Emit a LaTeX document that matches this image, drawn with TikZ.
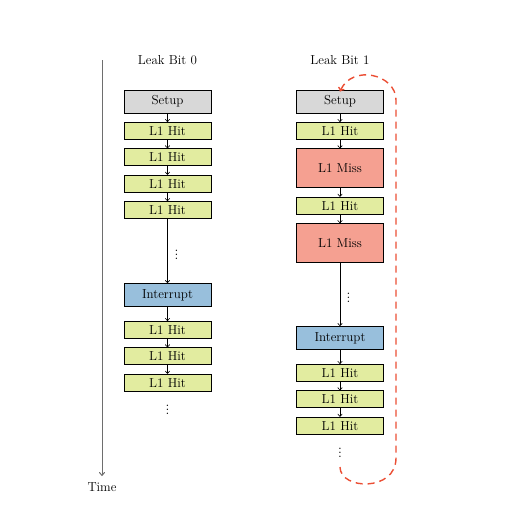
\documentclass[tikz,border=0pt]{standalone}
\usepackage{amsmath}
\usepackage{tikz}
\usetikzlibrary{positioning,arrows.meta}

\definecolor{setupgray}{RGB}{216,216,216}
\definecolor{hitgreen}{RGB}{226,236,160}
\definecolor{missred}{RGB}{245,160,145}
\definecolor{intblue}{RGB}{152,191,220}
\definecolor{loopred}{RGB}{235,78,52}
\definecolor{axisgray}{RGB}{110,110,110}

\begin{document}
\begin{tikzpicture}[x=1pt, y=-1pt, node distance={8.5pt},
    font=\fontsize{13}{15}\selectfont,
    stage/.style = {draw, line width=0.9pt, minimum width=87pt, inner sep=0pt},
    setup/.style = {stage, fill=setupgray, minimum height=23pt},
    hit/.style = {stage, fill=hitgreen, minimum height=17pt},
    miss/.style = {stage, fill=missred, minimum height=39pt},
    intr/.style = {stage, fill=intblue, minimum height=23pt},
    dots/.style = {inner sep=0pt, font=\fontsize{14}{16}\selectfont},
    flow/.style = {-{To[length=3pt,width=5pt]}, line width=0.6pt}]
    \useasboundingbox (0,0) rectangle (508,512);

    % time axis
    \coordinate (t0) at (102,60);
    \coordinate (t1) at (102,476);
    \draw[axisgray, line width=1pt, -{To[length=4pt,width=6pt]}] (t0) -- (t1);
    \node (time) at (102,487) {Time};

    % leak bit 0
    \node (h0) at (167.5,60) {Leak Bit 0};
    \node[setup] (a0) at (167.5,101.5) {Setup};
    \node[hit] (a1) [below=of a0] {L1 Hit};
    \node[hit] (a2) [below=of a1] {L1 Hit};
    \node[hit] (a3) [below=of a2] {L1 Hit};
    \node[hit] (a4) [below=of a3] {L1 Hit};
    \node[intr] (a5) [below=64pt of a4] {Interrupt};
    \node[hit] (a6) [below=14pt of a5] {L1 Hit};
    \node[hit] (a7) [below=of a6] {L1 Hit};
    \node[hit] (a8) [below=of a7] {L1 Hit};
    \node[dots] (d0) at (176.5,252) {$\vdots$};
    \node[dots] (d1) at (167.5,407) {$\vdots$};
    \draw[flow] (a0) -- (a1);
    \draw[flow] (a1) -- (a2);
    \draw[flow] (a2) -- (a3);
    \draw[flow] (a3) -- (a4);
    \draw[flow] (a4) -- (a5);
    \draw[flow] (a5) -- (a6);
    \draw[flow] (a6) -- (a7);
    \draw[flow] (a7) -- (a8);

    % leak bit 1
    \node (h1) at (340,60) {Leak Bit 1};
    \node[setup] (b0) at (340,101.5) {Setup};
    \node[hit] (b1) [below=of b0] {L1 Hit};
    \node[miss] (b2) [below=of b1] {L1 Miss};
    \node[hit] (b3) [below=of b2] {L1 Hit};
    \node[miss] (b4) [below=of b3] {L1 Miss};
    \node[intr] (b5) [below=63pt of b4] {Interrupt};
    \node[hit] (b6) [below=14pt of b5] {L1 Hit};
    \node[hit] (b7) [below=of b6] {L1 Hit};
    \node[hit] (b8) [below=of b7] {L1 Hit};
    \node[dots] (d2) at (348.5,295) {$\vdots$};
    \node[dots] (d3) at (340,450) {$\vdots$};
    \draw[flow] (b0) -- (b1);
    \draw[flow] (b1) -- (b2);
    \draw[flow] (b2) -- (b3);
    \draw[flow] (b3) -- (b4);
    \draw[flow] (b4) -- (b5);
    \draw[flow] (b5) -- (b6);
    \draw[flow] (b6) -- (b7);
    \draw[flow] (b7) -- (b8);

    % repeat loop
    \coordinate (l0) at (340,467);
    \draw[loopred, line width=1.4pt, dash pattern=on 7pt off 5pt,
          -{To[length=4pt,width=7pt]}]
        (l0) .. controls (340,490) and (396,492) .. (396,458)
        -- (396,100) .. controls (396,74) and (352,64) .. ([yshift=-2pt]b0.north);
\end{tikzpicture}
\end{document}
